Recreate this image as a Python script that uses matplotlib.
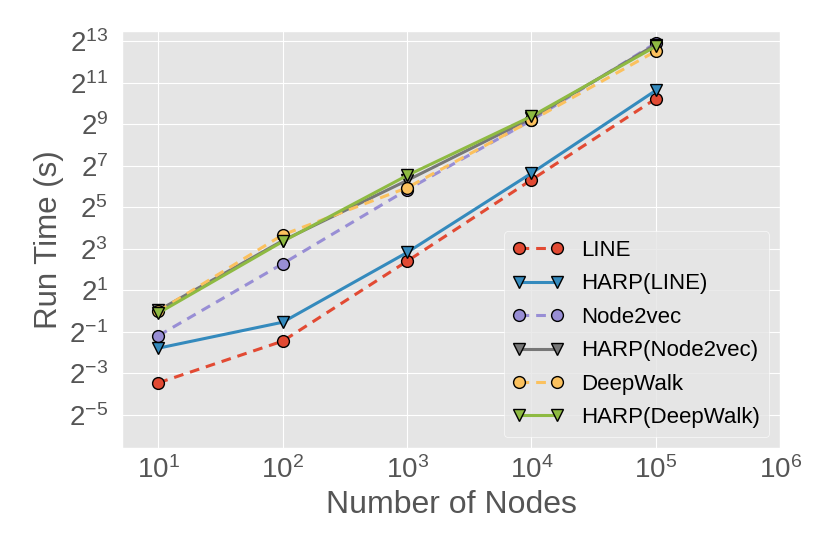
import matplotlib
matplotlib.use('Agg')
import matplotlib.pyplot as plt
import matplotlib.ticker as mticker
import numpy as np

plt.style.use('ggplot')
plt.rcParams['font.family'] = ['Liberation Sans', 'DejaVu Sans']
plt.rcParams['mathtext.fontset'] = 'custom'
plt.rcParams['mathtext.rm'] = 'Liberation Sans'
plt.rcParams['mathtext.it'] = 'Liberation Sans:italic'
plt.rcParams['mathtext.default'] = 'regular'
plt.rcParams['lines.scale_dashes'] = False

# number of nodes
nodes = [1e1, 1e2, 1e3, 1e4, 1e5]

# run times as log2(seconds)
line_log2 = [-3.45, -1.44, 2.41, 6.33, 10.24]
harp_line_log2 = [-1.78, -0.53, 2.83, 6.65, 10.64]
node2vec_log2 = [-1.18, 2.29, 5.85, 9.2, 12.92]
harp_node2vec_log2 = [0.04, 3.4, 6.3, 9.3, 12.85]
deepwalk_log2 = [0.0, 3.68, 5.95, 9.19, 12.53]
harp_deepwalk_log2 = [-0.09, 3.36, 6.54, 9.39, 12.76]

series = [
    ('LINE', line_log2, 'o', '--'),
    ('HARP(LINE)', harp_line_log2, 'v', '-'),
    ('Node2vec', node2vec_log2, 'o', '--'),
    ('HARP(Node2vec)', harp_node2vec_log2, 'v', '-'),
    ('DeepWalk', deepwalk_log2, 'o', '--'),
    ('HARP(DeepWalk)', harp_deepwalk_log2, 'v', '-'),
]

fig, ax = plt.subplots(figsize=(8.3, 5.54), dpi=100)
fig.subplots_adjust(left=0.147, right=0.94, top=0.944, bottom=0.191)

for name, vals, mk, ls in series:
    kw = dict(dashes=(7, 5)) if ls == '--' else {}
    ax.plot(nodes, 2.0 ** np.array(vals), linestyle=ls, marker=mk, lw=2.2,
            markersize=8.5, markeredgecolor='black', markeredgewidth=1,
            label=name, **kw)

ax.set_xscale('log')
ax.set_yscale('log', base=2)
ax.set_xlim(5.1, 1e6)
ax.set_ylim(2 ** -6.6, 2 ** 13.5)

ax.xaxis.set_major_locator(mticker.FixedLocator([10.0 ** k for k in range(1, 7)]))
ax.xaxis.set_major_formatter(mticker.FuncFormatter(lambda v, p: r'$10^{%d}$' % round(np.log10(v))))
ax.yaxis.set_major_locator(mticker.FixedLocator([2.0 ** k for k in range(-5, 14, 2)]))
ax.yaxis.set_major_formatter(mticker.FuncFormatter(lambda v, p: r'$2^{%d}$' % round(np.log2(v))))
ax.xaxis.set_minor_locator(mticker.NullLocator())
ax.yaxis.set_minor_locator(mticker.NullLocator())
ax.tick_params(labelsize=20, colors='#555555', length=0, pad=6)
ax.tick_params(axis='y', pad=10)

ax.set_xlabel('Number of Nodes', fontsize=23, color='#555555')
ax.set_ylabel('Run Time (s)', fontsize=22.5, color='#555555')

leg = ax.legend(loc='lower right', numpoints=2, fontsize=16, frameon=True,
                handlelength=2.3, labelspacing=0.56, borderaxespad=0.5)
leg.get_frame().set_facecolor('#E5E5E5')
leg.get_frame().set_edgecolor('white')

plt.savefig('out.png')
